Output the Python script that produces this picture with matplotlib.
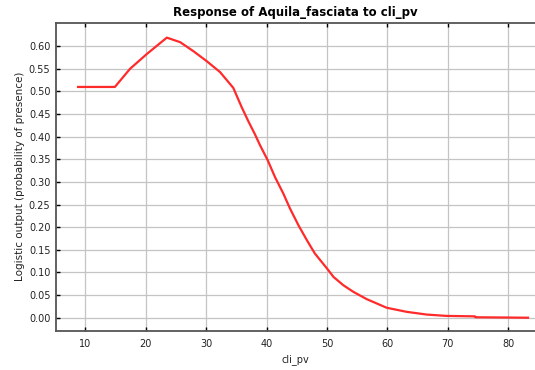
import matplotlib
matplotlib.use("Agg")
import matplotlib.pyplot as plt
import numpy as np

cli_pv = [8.8, 14.9, 17.4, 20.2, 23.5, 25.7, 27.9, 30.1, 32.3, 34.5, 35.9, 37.0,
          38.1, 38.9, 40.2, 41.4, 42.8, 43.9, 45.3, 46.7, 48.0, 50.0, 51.1, 52.7,
          54.4, 56.6, 59.9, 63.2, 66.5, 69.8, 74.5, 74.6, 83.3]
prob = [0.510, 0.510, 0.550, 0.583, 0.619, 0.609, 0.589, 0.567, 0.543, 0.508,
        0.465, 0.434, 0.405, 0.382, 0.348, 0.311, 0.274, 0.241, 0.204, 0.171,
        0.142, 0.109, 0.090, 0.072, 0.057, 0.041, 0.022, 0.013, 0.007, 0.004,
        0.003, 0.001, 0.000]
x_ticks = [10, 20, 30, 40, 50, 60, 70, 80]
y_ticks = [0.00, 0.05, 0.10, 0.15, 0.20, 0.25, 0.30, 0.35, 0.40, 0.45, 0.50, 0.55, 0.60]

W, H = 535, 370
fig = plt.figure(figsize=(W / 100, H / 100), dpi=100)
fig.patch.set_facecolor("white")
ax = fig.add_axes([56 / W, (H - 330.7) / H, (W - 56) / W, (330.7 - 22.7) / H])
ax.set_facecolor("white")

ax.plot(cli_pv, prob, color="#ff2a2a", lw=1.6, solid_joinstyle="round", zorder=3)

ax.set_xlim(5.15, 84.45)
ax.set_ylim(-0.0287, 0.652)
ax.set_xticks(x_ticks)
ax.set_yticks(y_ticks)
ax.set_yticklabels([f"{v:.2f}" for v in y_ticks])
ax.grid(True, color="#c4c4c4", lw=0.9, zorder=0)
ax.set_axisbelow(True)

ax.tick_params(axis="both", direction="in", length=3, width=1, color="black",
               labelsize=7, labelcolor="#222222", pad=4)
ax.tick_params(axis="x", top=True, pad=6)

for s in ["left", "bottom", "top"]:
    ax.spines[s].set_color("#555555")
    ax.spines[s].set_linewidth(1.3)
ax.spines["right"].set_visible(False)

ax.set_title("Response of Aquila_fasciata to cli_pv", fontsize=8.5, fontweight="bold", pad=5)
ax.set_xlabel("cli_pv", fontsize=7, labelpad=4, color="#222222")
ax.set_ylabel("Logistic output (probability of presence)", fontsize=7.5, labelpad=3, color="#222222")

fig.savefig("out.png", dpi=100)
